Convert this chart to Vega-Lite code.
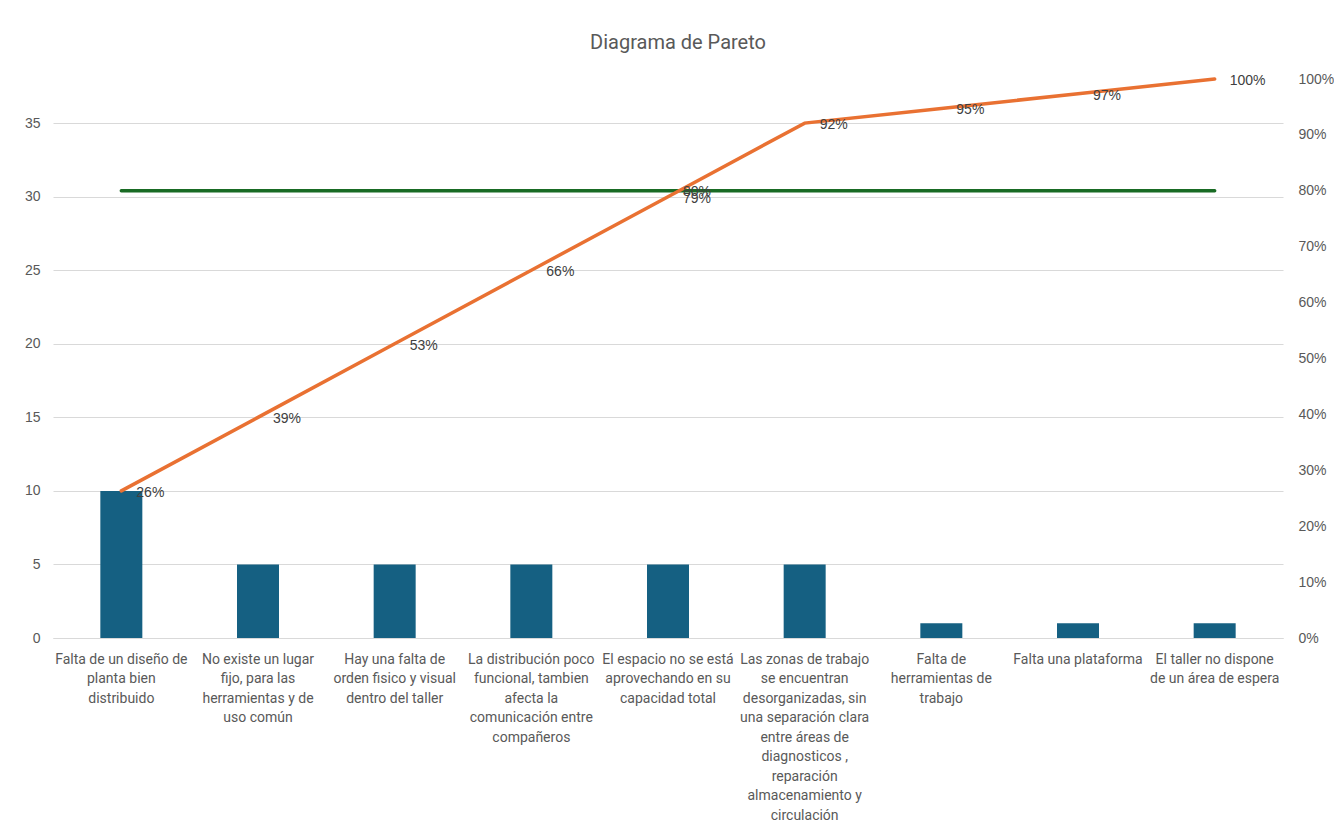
{
  "$schema": "https://vega.github.io/schema/vega-lite/v6.json",
  "width": 1230,
  "height": 559,
  "autosize": {"type": "none"},
  "padding": {"left": 53, "top": 79, "right": 51, "bottom": 194},
  "background": "white",
  "title": {
    "text": "Diagrama de Pareto",
    "font": "Liberation Sans Narrow, Roboto",
    "fontSize": 20,
    "fontWeight": "normal",
    "color": "#595959",
    "anchor": "middle",
    "offset": 19,
    "dx": 10
  },
  "config": {
    "view": {"stroke": null},
    "axis": {"labelColor": "#595959", "labelFont": "Liberation Sans", "labelFontSize": 14}
  },
  "data": {
    "values": [
      {"cat": "Falta de un diseño de|planta bien|distribuido", "count": 10, "cum": 0.2632, "meta": 0.8},
      {"cat": "No existe un lugar|fijo, para las|herramientas y de|uso común", "count": 5, "cum": 0.3947, "meta": 0.8},
      {"cat": "Hay una falta de|orden fisico y visual|dentro del taller", "count": 5, "cum": 0.5263, "meta": 0.8},
      {"cat": "La distribución poco|funcional, tambien|afecta la|comunicación entre|compañeros", "count": 5, "cum": 0.6579, "meta": 0.8},
      {"cat": "El espacio no se está|aprovechando en su|capacidad total", "count": 5, "cum": 0.7895, "meta": 0.8, "metaLabel": "80%"},
      {"cat": "Las zonas de trabajo|se encuentran|desorganizadas, sin|una separación clara|entre áreas de|diagnosticos ,|reparación|almacenamiento y|circulación", "count": 5, "cum": 0.9211, "meta": 0.8},
      {"cat": "Falta de|herramientas de|trabajo", "count": 1, "cum": 0.9474, "meta": 0.8},
      {"cat": "Falta una plataforma", "count": 1, "cum": 0.9737, "meta": 0.8},
      {"cat": "El taller no dispone|de un área de espera", "count": 1, "cum": 1.0, "meta": 0.8}
    ]
  },
  "encoding": {
    "x": {
      "field": "cat",
      "type": "nominal",
      "sort": null,
      "scale": {"paddingInner": 0, "paddingOuter": 0},
      "axis": {
        "title": null,
        "labelAngle": 0,
        "labelExpr": "split(datum.label, '|')",
        "labelFont": "Liberation Sans Narrow, Roboto",
        "labelFontSize": 14,
        "labelLineHeight": 19.5,
        "labelPadding": 14,
        "labelBaseline": "top",
        "labelLimit": 300,
        "labelOverlap": false,
        "labelBound": false,
        "ticks": false,
        "domain": true,
        "domainColor": "#d9d9d9"
      }
    }
  },
  "layer": [
    {
      "mark": {"type": "bar", "size": 42, "color": "#156082"},
      "encoding": {
        "y": {
          "field": "count",
          "type": "quantitative",
          "scale": {"domain": [0, 38], "nice": false},
          "axis": {
            "title": null,
            "values": [0, 5, 10, 15, 20, 25, 30, 35],
            "grid": true,
            "gridColor": "#d9d9d9",
            "domain": false,
            "ticks": false,
            "labelPadding": 13
          }
        }
      }
    },
    {
      "encoding": {
        "y": {
          "field": "cum",
          "type": "quantitative",
          "scale": {"domain": [0, 1], "nice": false},
          "axis": {
            "orient": "right",
            "title": null,
            "format": ".0%",
            "values": [0, 0.1, 0.2, 0.3, 0.4, 0.5, 0.6, 0.7, 0.8, 0.9, 1],
            "grid": false,
            "domain": false,
            "ticks": false,
            "labelPadding": 15
          }
        }
      },
      "layer": [
        {
          "mark": {"type": "line", "color": "#196B24", "strokeWidth": 3.5, "strokeCap": "round"},
          "encoding": {"y": {"field": "meta", "type": "quantitative"}}
        },
        {
          "mark": {"type": "line", "color": "#E97132", "strokeWidth": 3.5, "strokeCap": "round"}
        },
        {
          "mark": {"type": "text", "align": "left", "baseline": "middle", "dx": 15, "dy": 2, "font": "Liberation Sans", "fontSize": 14, "color": "#404040"},
          "encoding": {"text": {"field": "cum", "type": "quantitative", "format": ".0%"}}
        },
        {
          "transform": [{"filter": "datum.metaLabel != null"}],
          "mark": {"type": "text", "align": "left", "baseline": "middle", "dx": 15, "dy": 1, "font": "Liberation Sans", "fontSize": 14, "color": "#404040"},
          "encoding": {
            "y": {"field": "meta", "type": "quantitative"},
            "text": {"field": "metaLabel", "type": "nominal"}
          }
        }
      ]
    }
  ],
  "resolve": {"scale": {"y": "independent"}}
}
